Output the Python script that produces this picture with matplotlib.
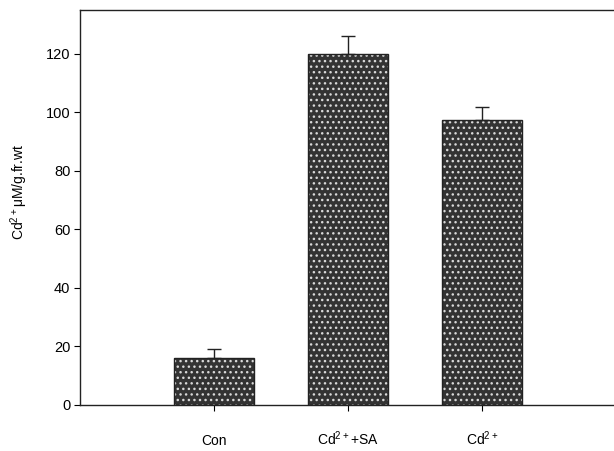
import numpy as np
import matplotlib
matplotlib.use("Agg")
import matplotlib.pyplot as plt

# valeurs
categories = ["Con", "Cd$^{2+}$+SA", "Cd$^{2+}$"]
cd_values = [16, 120, 97.5]
cd_errors = [3, 6, 4.3]
y_ticks = [0, 20, 40, 60, 80, 100, 120]

plt.rcParams['font.family'] = ['Liberation Sans', 'DejaVu Sans']
plt.rcParams['mathtext.fontset'] = 'custom'
plt.rcParams['mathtext.rm'] = 'Liberation Sans'

fig = plt.figure(figsize=(6.14, 4.51), dpi=100)
ax = fig.add_axes([80 / 614, 46 / 451, 536 / 614, 395 / 451])

x = np.arange(1, len(categories) + 1)

# fond sombre avec points clairs (texture de l'original)
ax.bar(x, cd_values, width=0.6, color='#333333', edgecolor='#d8d8d8',
       hatch='...', linewidth=0, zorder=2)
ax.bar(x, cd_values, width=0.6, fill=False, edgecolor='#222222',
       linewidth=1.0, zorder=3)
ax.errorbar(x, cd_values, yerr=[np.zeros(len(cd_errors)), cd_errors],
            fmt='none', ecolor='#222222', elinewidth=1.0, capsize=5,
            capthick=1.0, zorder=4)

ax.set_xlim(0, 4)
ax.set_ylim(0, 135)
ax.set_yticks(y_ticks)
ax.set_xticks(x)
ax.set_xticklabels(categories, fontsize=10)
for lab in ax.get_xticklabels():
    lab.set_verticalalignment('baseline')
ax.tick_params(axis='y', direction='out', length=4, labelsize=10.5, pad=3)
ax.tick_params(axis='x', direction='out', length=4, pad=25)
ax.spines['right'].set_visible(False)
for s in ['left', 'top', 'bottom']:
    ax.spines[s].set_linewidth(1.0)
    ax.spines[s].set_color('#222222')

ax.set_ylabel('Cd$^{2+}$\u03bcM/g.fr.wt', fontsize=10)
ax.yaxis.set_label_coords(-0.093, 0.54)

fig.savefig('out.png', dpi=100)
